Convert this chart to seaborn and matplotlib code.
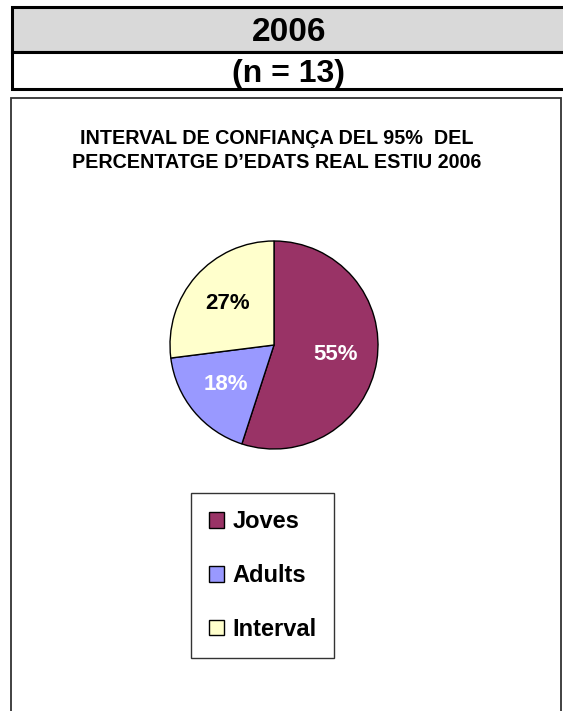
import matplotlib
matplotlib.use("Agg")
import matplotlib.pyplot as plt
from matplotlib.patches import Rectangle
import seaborn as sns

# data
categories = ["Joves", "Adults", "Interval"]
values = [55, 18, 27]
colors = ["#993366", "#9999FF", "#FFFFCC"]
label_colors = ["white", "white", "black"]
header_year = "2006"
header_n = "(n = 13)"
title_lines = ["INTERVAL DE CONFIANÇA DEL 95%  DEL",
               "PERCENTATGE D\u2019EDATS REAL ESTIU 2006"]

sns.set_theme(style="white")
plt.rcParams["font.family"] = ["Liberation Sans", "DejaVu Sans"]
plt.rcParams["text.color"] = "black"

W, H = 563, 711
fig = plt.figure(figsize=(W / 100, H / 100), dpi=100)
fig.patch.set_facecolor("white")

# background axes in pixel coords
bg = fig.add_axes([0, 0, 1, 1])
bg.set_xlim(0, W)
bg.set_ylim(H, 0)
bg.axis("off")

# header table
bg.add_patch(Rectangle((12, 7), 570, 45, facecolor="#d9d9d9", edgecolor="black", lw=2.2, clip_on=False))
bg.add_patch(Rectangle((12, 52), 570, 37, facecolor="white", edgecolor="black", lw=2.2, clip_on=False))
bg.text(289, 41, header_year, ha="center", va="baseline", fontsize=24, fontweight="bold")
bg.text(288, 82, header_n, ha="center", va="baseline", fontsize=23, fontweight="bold")

# chart frame
bg.add_patch(Rectangle((11, 98), 550, 640, facecolor="white", edgecolor="#333333", lw=1.3, clip_on=False))
for yb, line in zip([144, 168], title_lines):
    bg.text(277, yb, line, ha="center", va="baseline", fontsize=14.2, fontweight="bold")

# pie
cx, cy, r = 274, 345, 104
ax = fig.add_axes([(cx - r) / W, 1 - (cy + r) / H, 2 * r / W, 2 * r / H])
wedges, texts, autotexts = ax.pie(
    values, colors=colors, startangle=90, counterclock=False,
    autopct="%1.0f%%", pctdistance=0.6,
    wedgeprops=dict(edgecolor="black", linewidth=1),
)
for t, c in zip(autotexts, label_colors):
    t.set_color(c)
    t.set_fontsize(16)
    t.set_fontweight("bold")
ax.set_xlim(-1, 1)
ax.set_ylim(-1, 1)

# legend
leg = fig.legend(
    wedges, categories, loc="center",
    bbox_to_anchor=(262.5 / W, 1 - 575.5 / H),
    frameon=True, fancybox=False, edgecolor="black",
    handlelength=0.65, handleheight=0.65, handletextpad=0.35,
    labelspacing=1.3, borderpad=0.75, borderaxespad=0,
    prop={"weight": "bold", "size": 17},
)
leg.get_frame().set_linewidth(1)
for h in leg.legend_handles:
    h.set_edgecolor("black")

fig.savefig("out.png", dpi=100)
